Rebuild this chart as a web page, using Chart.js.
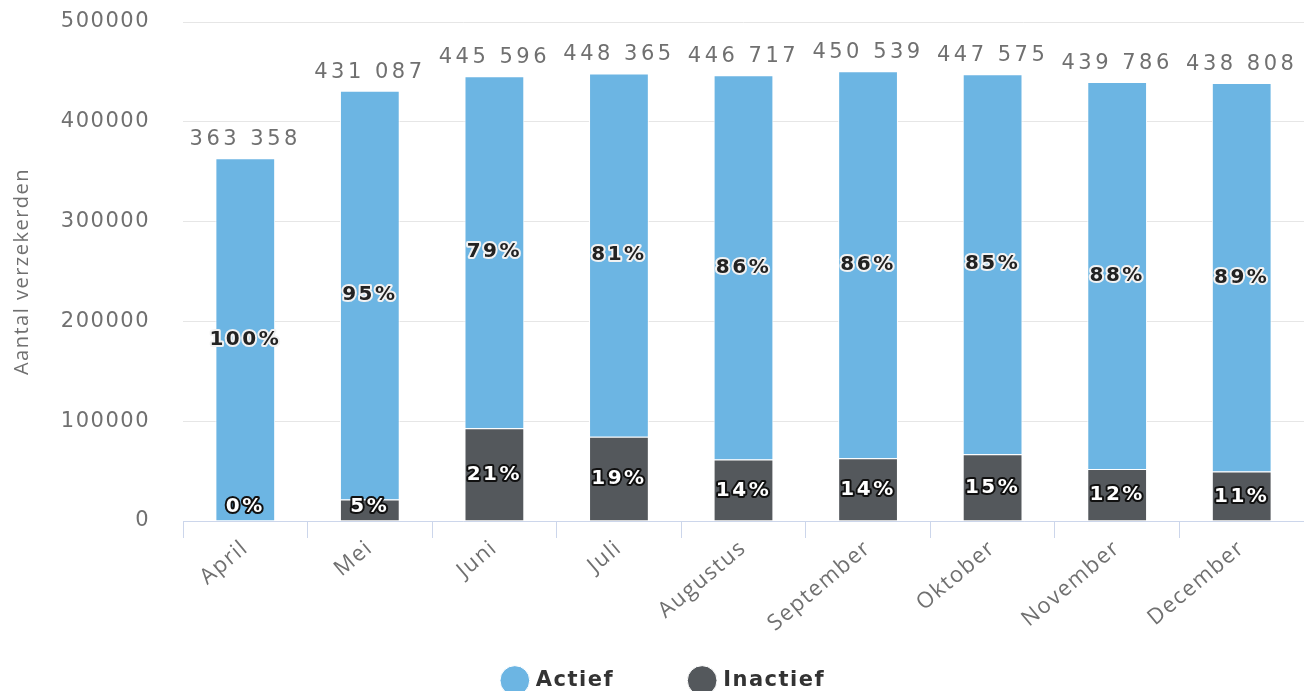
<!DOCTYPE html>
<html>
<head>
<meta charset="utf-8">
<script src="https://cdn.jsdelivr.net/npm/chart.js@4/dist/chart.umd.min.js"></script>
<style>
  html, body { margin: 0; padding: 0; background: #fff; }
  #wrap { width: 1304px; height: 691px; }
</style>
</head>
<body>
<div id="wrap"><canvas id="idStackChart"></canvas></div>
<script>
    const maanden = ['April', 'Mei', 'Juni', 'Juli', 'Augustus', 'September', 'Oktober', 'November', 'December'];
    const actief = [362758, 409587, 352596, 363865, 385217, 387539, 380575, 387786, 389308];
    const inactief = [600, 21500, 93000, 84500, 61500, 63000, 67000, 52000, 49500];
    const y_ticks = [0, 100000, 200000, 300000, 400000, 500000];

    const blauw = '#6cb5e3';
    const grijs = '#54585c';

    // totaal per maand, met spatie als duizendtal-scheiding
    function fmtTotaal(v) {
        return String(v).replace(/\B(?=(\d{3})+(?!\d))/g, ' ');
    }

    var labelPlugin = {
        id: 'labelPlugin',
        beforeDraw: function (chart) {
            chart.ctx.letterSpacing = '1.5px';
        },
        afterDatasetsDraw: function (chart) {
            var ctx = chart.ctx;
            var y = chart.scales.y;
            var meta = chart.getDatasetMeta(0);
            ctx.save();
            ctx.textAlign = 'center';
            ctx.textBaseline = 'middle';
            ctx.lineJoin = 'round';
            ctx.letterSpacing = '2.5px';
            ctx.font = 'bold 20px "DejaVu Sans"';
            for (let i = 0; i < maanden.length; i++) {
                let tot = actief[i] + inactief[i];
                let bx = meta.data[i].x;
                // inactief (onderste stuk)
                let pIn = Math.round(inactief[i] / tot * 100);
                let yIn = (y.getPixelForValue(0) + y.getPixelForValue(inactief[i])) / 2;
                if (yIn > y.getPixelForValue(0) - 14) yIn = y.getPixelForValue(0) - 14;
                ctx.lineWidth = 4;
                ctx.strokeStyle = '#111';
                ctx.strokeText(pIn + '%', bx, yIn);
                ctx.fillStyle = '#fff';
                ctx.fillText(pIn + '%', bx, yIn);

                // actief
                let pAc = Math.round(actief[i] / tot * 100);
                let yAc = (y.getPixelForValue(inactief[i]) + y.getPixelForValue(tot)) / 2;
                ctx.strokeStyle = '#f2f2f2';
                ctx.strokeText(pAc + '%', bx, yAc);
                ctx.fillStyle = '#222';
                ctx.fillText(pAc + '%', bx, yAc);
            }
            // totalen boven de staven
            ctx.font = '21px "DejaVu Sans"';
            ctx.letterSpacing = '3.5px';
            ctx.fillStyle = '#707070';
            ctx.textBaseline = 'bottom';
            for (let i = 0; i < maanden.length; i++) {
                let tot = actief[i] + inactief[i];
                ctx.fillText(fmtTotaal(tot), meta.data[i].x, y.getPixelForValue(tot) - 8);
            }
            ctx.restore();
        }
    };

    var data_stack = {
        labels: maanden,
        datasets: [
            {
                label: 'Inactief',
                data: inactief,
                backgroundColor: grijs,
                borderColor: '#ffffff',
                borderWidth: 1,
                barPercentage: 0.48,
                categoryPercentage: 1.0
            },
            {
                label: 'Actief',
                data: actief,
                backgroundColor: blauw,
                borderColor: '#ffffff',
                borderWidth: 1,
                barPercentage: 0.48,
                categoryPercentage: 1.0
            }
        ]
    };

    var options_stack = {
        responsive: true,
        maintainAspectRatio: false,
        animation: false,
        layout: { padding: { top: 0, right: 0, left: 0, bottom: -10 } },
        scales: {
            x: {
                stacked: true,
                grid: {
                    offset: true,
                    drawOnChartArea: false,
                    drawTicks: true,
                    tickLength: 17,
                    color: '#ccd6eb'
                },
                border: { color: '#ccd6eb', width: 1 },
                ticks: {
                    minRotation: 40,
                    maxRotation: 40,
                    padding: -3,
                    color: '#707070',
                    font: { family: 'Open Sans', size: 22 }
                },
                afterFit: function (scale) { scale.height = 139; }
            },
            y: {
                stacked: true,
                min: 0,
                max: 500000,
                afterBuildTicks: function (scale) {
                    scale.ticks = y_ticks.map((v) => ({ value: v }));
                },
                grid: { color: '#e6e6e6', drawTicks: false },
                border: { display: false },
                ticks: {
                    padding: 33,
                    color: '#707070',
                    font: { family: 'DejaVu Sans', size: 21 },
                    callback: function (value) { return String(value); }
                },
                title: {
                    display: true,
                    text: 'Aantal verzekerden',
                    color: '#707070',
                    padding: { top: 10, bottom: 0 },
                    font: { family: 'Open Sans', size: 20 }
                },
                afterFit: function (scale) {
                    scale.width = 183;
                    scale.paddingTop = 22;
                    scale.paddingBottom = 0;
                }
            }
        },
        plugins: {
            legend: {
                position: 'bottom',
                reverse: true,
                labels: {
                    usePointStyle: true,
                    pointStyle: 'circle',
                    boxWidth: 22,
                    boxHeight: 21,
                    padding: 10,
                    color: '#333333',
                    font: { family: 'DejaVu Sans', size: 21, weight: 'bold' },
                    generateLabels: function (chart) {
                        let items = Chart.defaults.plugins.legend.labels.generateLabels(chart);
                        // extra ruimte tussen de twee items
                        items.forEach((it) => { if (it.text === 'Actief') it.text = 'Actief\u2003\u2003\u2003'; });
                        return items;
                    }
                }
            },
            tooltip: { enabled: false }
        }
    };

    var ctx = document.getElementById('idStackChart').getContext('2d');
    var idStackChart = new Chart(ctx, {
        type: 'bar',
        data: data_stack,
        options: options_stack,
        plugins: [labelPlugin]
    });
</script>
</body>
</html>
